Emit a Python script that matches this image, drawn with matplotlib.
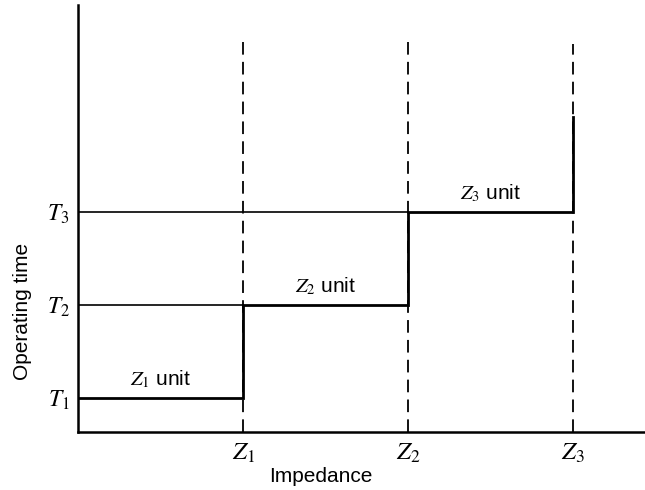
import matplotlib
matplotlib.use("Agg")
import matplotlib.pyplot as plt

plt.rcParams["mathtext.fontset"] = "stix"
plt.rcParams["font.family"] = ["Liberation Sans", "DejaVu Sans"]

# zone reaches and operating times
zones = [1.0, 2.0, 3.0]
times = [1.0, 2.0, 3.0]
zone_ticks = ["$Z_1$", "$Z_2$", "$Z_3$"]
time_ticks = ["$T_1$", "$T_2$", "$T_3$"]
unit_labels = ["$Z_1$ unit", "$Z_2$ unit", "$Z_3$ unit"]
dash_tops = [4.90, 4.90, 4.80]
z3_solid_top = 4.02

fig = plt.figure(figsize=(6.45, 4.9), dpi=100)
ax = fig.add_axes([0.121, 0.118, 0.879, 0.871])
ax.set_xlim(0, 3.436)
ax.set_ylim(0.634, 5.22)

# dashed reach lines
for z, top in zip(zones, dash_tops):
    ax.plot([z, z], [0.634, top], color="black", lw=1.3, ls=(0, (7, 4)))

# thin time-level lines
ax.plot([0, zones[0]], [times[1], times[1]], color="black", lw=1.2)
ax.plot([0, zones[1]], [times[2], times[2]], color="black", lw=1.2)

# stepped characteristic
sx = [0, zones[0], zones[0], zones[1], zones[1], zones[2], zones[2]]
sy = [times[0], times[0], times[1], times[1], times[2], times[2], z3_solid_top]
ax.plot(sx, sy, color="black", lw=2.0, solid_joinstyle="miter")

# unit labels
starts = [0] + zones[:-1]
for x0, z, t, lab in zip(starts, zones, times, unit_labels):
    ax.text((x0 + z) / 2, t + 0.09, lab, ha="center", va="bottom", fontsize=15)

for s in ["top", "right"]:
    ax.spines[s].set_visible(False)
ax.spines["left"].set_linewidth(1.8)
ax.spines["bottom"].set_linewidth(1.8)

ax.set_xticks(zones)
ax.set_xticklabels(zone_ticks, fontsize=18)
ax.set_yticks(times)
ax.set_yticklabels(time_ticks, fontsize=17)
ax.tick_params(length=0, pad=6)

ax.set_xlabel("Impedance", fontsize=15)
ax.xaxis.set_label_coords(0.429, -0.082)
ax.set_ylabel("Operating time", fontsize=15)
ax.yaxis.set_label_coords(-0.081, 0.283)

fig.savefig("out.png", dpi=100)
